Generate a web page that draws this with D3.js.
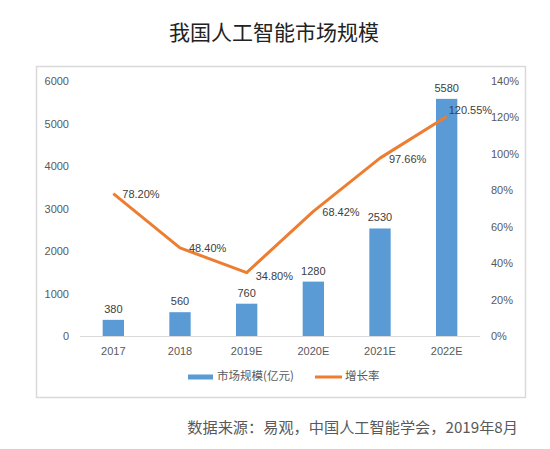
<!DOCTYPE html>
<html><head><meta charset="utf-8">
<script src="https://cdn.jsdelivr.net/npm/d3@7"></script>
<style>body{margin:0;background:#fff;}svg{display:block;font-family:"Noto Sans CJK SC","Microsoft YaHei",sans-serif;}</style>
</head><body>
<svg id="c" width="550" height="449"></svg>
<script>
const categories = ["2017","2018","2019E","2020E","2021E","2022E"];
const marketSize = [380,560,760,1280,2530,5580];
const growthRate = [78.20,48.40,34.80,68.42,97.66,120.55];
const leftTicks = [0,1000,2000,3000,4000,5000,6000];
const rightTicks = [0,20,40,60,80,100,120,140];
const title = "我国人工智能市场规模";
const legendLabels = ["市场规模(亿元)","增长率"];
const source = "数据来源：易观，中国人工智能学会，2019年8月";

const svg = d3.select("#c");
const m = {l:80, r:480, t:81, b:336};
const x = d3.scaleBand().domain(categories).range([m.l,m.r]).paddingInner(0.68).paddingOuter(0.34);
const yL = d3.scaleLinear().domain([0,6000]).range([m.b,m.t]);
const yR = d3.scaleLinear().domain([0,140]).range([m.b,m.t]);
const cx = d => x(d)+x.bandwidth()/2;
const txt = "#595959";
const numFont = "Liberation Sans, Arial, sans-serif";

svg.append("text").attr("x",274).attr("y",40).attr("text-anchor","middle")
  .attr("font-size",21).attr("fill","#222").text(title);

svg.append("rect").attr("x",36.5).attr("y",66.5).attr("width",489).attr("height",331)
  .attr("fill","none").attr("stroke","#d9d9d9").attr("stroke-width",1.5);

const gl = svg.append("g").attr("transform",`translate(${m.l},0)`)
  .call(d3.axisLeft(yL).tickValues(leftTicks).tickFormat(d=>String(d)).tickSize(0).tickPadding(11));
gl.select(".domain").remove();
gl.selectAll("text").attr("font-size",11).attr("fill",txt).attr("font-family",numFont);

const gr = svg.append("g").attr("transform",`translate(${m.r},0)`)
  .call(d3.axisRight(yR).tickValues(rightTicks).tickFormat(d=>d+"%").tickSize(0).tickPadding(11));
gr.select(".domain").remove();
gr.selectAll("text").attr("font-size",11).attr("fill",txt).attr("font-family",numFont);

svg.selectAll(".bar").data(categories).enter().append("rect")
  .attr("x",d=>x(d)).attr("width",x.bandwidth())
  .attr("y",(d,i)=>yL(marketSize[i])).attr("height",(d,i)=>m.b-yL(marketSize[i]))
  .attr("fill","#5B9BD5");

svg.append("line").attr("x1",m.l).attr("x2",m.r).attr("y1",m.b+0.5).attr("y2",m.b+0.5)
  .attr("stroke","#d9d9d9").attr("stroke-width",1);

const gx = svg.append("g").attr("transform",`translate(0,${m.b})`)
  .call(d3.axisBottom(x).tickSize(0).tickPadding(11));
gx.select(".domain").remove();
gx.selectAll("text").attr("font-size",11).attr("fill",txt).attr("font-family",numFont);

svg.selectAll(".bl").data(categories).enter().append("text")
  .attr("x",d=>cx(d)).attr("y",(d,i)=>yL(marketSize[i])-7)
  .attr("text-anchor","middle").attr("font-size",11).attr("fill","#404040")
  .attr("font-family",numFont)
  .text((d,i)=>marketSize[i]);

const line = d3.line().x((d,i)=>cx(categories[i])).y(d=>yR(d));
svg.append("path").datum(growthRate).attr("d",line).attr("fill","none")
  .attr("stroke","#ED7D31").attr("stroke-width",3).attr("stroke-linejoin","round");

const offs = [[9,2],[9,1],[9,4],[9,2],[9,2],[2,-5]];
svg.selectAll(".ll").data(growthRate).enter().append("text")
  .attr("x",(d,i)=>cx(categories[i])+offs[i][0]).attr("y",(d,i)=>yR(d)+offs[i][1])
  .attr("dominant-baseline","middle").attr("font-size",11).attr("fill","#404040")
  .attr("font-family",numFont)
  .text(d=>d.toFixed(2)+"%");

const lg = svg.append("g");
lg.append("rect").attr("x",188).attr("y",374.5).attr("width",25).attr("height",5).attr("fill","#5B9BD5");
lg.append("text").attr("x",217).attr("y",377).attr("dominant-baseline","middle").attr("font-size",11.5).attr("fill",txt).text(legendLabels[0]);
lg.append("line").attr("x1",315).attr("x2",342).attr("y1",377).attr("y2",377).attr("stroke","#ED7D31").attr("stroke-width",3);
lg.append("text").attr("x",345).attr("y",377).attr("dominant-baseline","middle").attr("font-size",11.5).attr("fill",txt).text(legendLabels[1]);

svg.append("text").attr("x",518).attr("y",433).attr("text-anchor","end").attr("font-size",15.2)
  .attr("fill",txt).text(source);
</script>
</body></html>
